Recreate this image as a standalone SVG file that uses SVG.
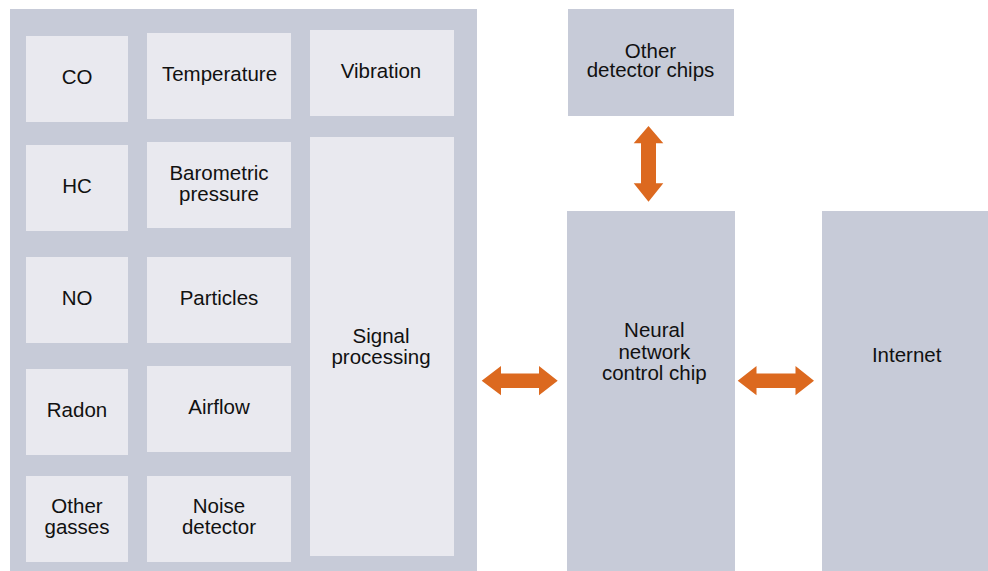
<svg xmlns="http://www.w3.org/2000/svg" width="988" height="571" viewBox="0 0 988 571">
  <style>
    .panel { fill: #c7cbd8; }
    .cell { fill: #e9e9ef; }
    .chip { fill: #c7cbd8; }
    text { font-family: "Liberation Sans", Arial, sans-serif; font-size: 20.5px; fill: #111111; text-anchor: middle; }
    .arrow { fill: #dc691f; }
  </style>
  <rect width="988" height="571" fill="#ffffff"/>

  <!-- sensor board -->
  <g id="sensor-board">
    <rect class="panel" x="10" y="9" width="467" height="562"/>
  </g>

  <g id="co">
    <rect class="cell" x="26" y="36" width="102" height="86"/>
    <text x="77" y="83.5">CO</text>
  </g>
  <g id="temperature">
    <rect class="cell" x="147" y="33" width="144" height="86"/>
    <text x="219.5" y="81">Temperature</text>
  </g>
  <g id="vibration">
    <rect class="cell" x="310" y="30" width="144" height="86"/>
    <text x="381" y="78.3">Vibration</text>
  </g>

  <g id="hc">
    <rect class="cell" x="26" y="145" width="102" height="86"/>
    <text x="77" y="192.5">HC</text>
  </g>
  <g id="barometric-pressure">
    <rect class="cell" x="147" y="142" width="144" height="86"/>
    <text x="219" y="180">Barometric</text>
    <text x="219" y="200.5">pressure</text>
  </g>

  <g id="no">
    <rect class="cell" x="26" y="257" width="102" height="86"/>
    <text x="77" y="305">NO</text>
  </g>
  <g id="particles">
    <rect class="cell" x="147" y="257" width="144" height="86"/>
    <text x="219" y="305">Particles</text>
  </g>

  <g id="signal-processing">
    <rect class="cell" x="310" y="137" width="144" height="419"/>
    <text x="381" y="342.5">Signal</text>
    <text x="381" y="364">processing</text>
  </g>

  <g id="radon">
    <rect class="cell" x="26" y="369" width="102" height="86"/>
    <text x="77" y="417">Radon</text>
  </g>
  <g id="airflow">
    <rect class="cell" x="147" y="366" width="144" height="86"/>
    <text x="219" y="414">Airflow</text>
  </g>

  <g id="other-gasses">
    <rect class="cell" x="26" y="476" width="102" height="86"/>
    <text x="77" y="513.3">Other</text>
    <text x="77" y="533.5">gasses</text>
  </g>
  <g id="noise-detector">
    <rect class="cell" x="147" y="476" width="144" height="86"/>
    <text x="219" y="513.3">Noise</text>
    <text x="219" y="533.8">detector</text>
  </g>

  <!-- chips -->
  <g id="other-detector-chips">
    <rect class="chip" x="568" y="9" width="166" height="107"/>
    <text x="650.5" y="58.3">Other</text>
    <text x="650.5" y="77.3">detector chips</text>
  </g>
  <g id="neural-network-chip">
    <rect class="chip" x="567" y="211" width="168" height="360"/>
    <text x="654.3" y="337.3">Neural</text>
    <text x="654.3" y="359">network</text>
    <text x="654.3" y="380">control chip</text>
  </g>
  <g id="internet">
    <rect class="chip" x="822" y="211" width="166" height="360"/>
    <text x="906.7" y="362.3">Internet</text>
  </g>

  <!-- double-headed block arrows -->
  <g id="connectors">
    <polygon class="arrow" points="481.7,380.7 501,366 501,373.5 539,373.5 539,366 557.7,380.7 539,395.3 539,388 501,388 501,395.3"/>
    <polygon class="arrow" points="737.7,380.7 756.5,366 756.5,373.5 795.5,373.5 795.5,366 814,380.7 795.5,395.3 795.5,388 756.5,388 756.5,395.3"/>
    <polygon class="arrow" points="648.5,126 663.3,143.3 656,143.3 656,183.3 663.3,183.3 648.5,201.7 633.7,183.3 641,183.3 641,143.3 633.7,143.3"/>
  </g>
</svg>
